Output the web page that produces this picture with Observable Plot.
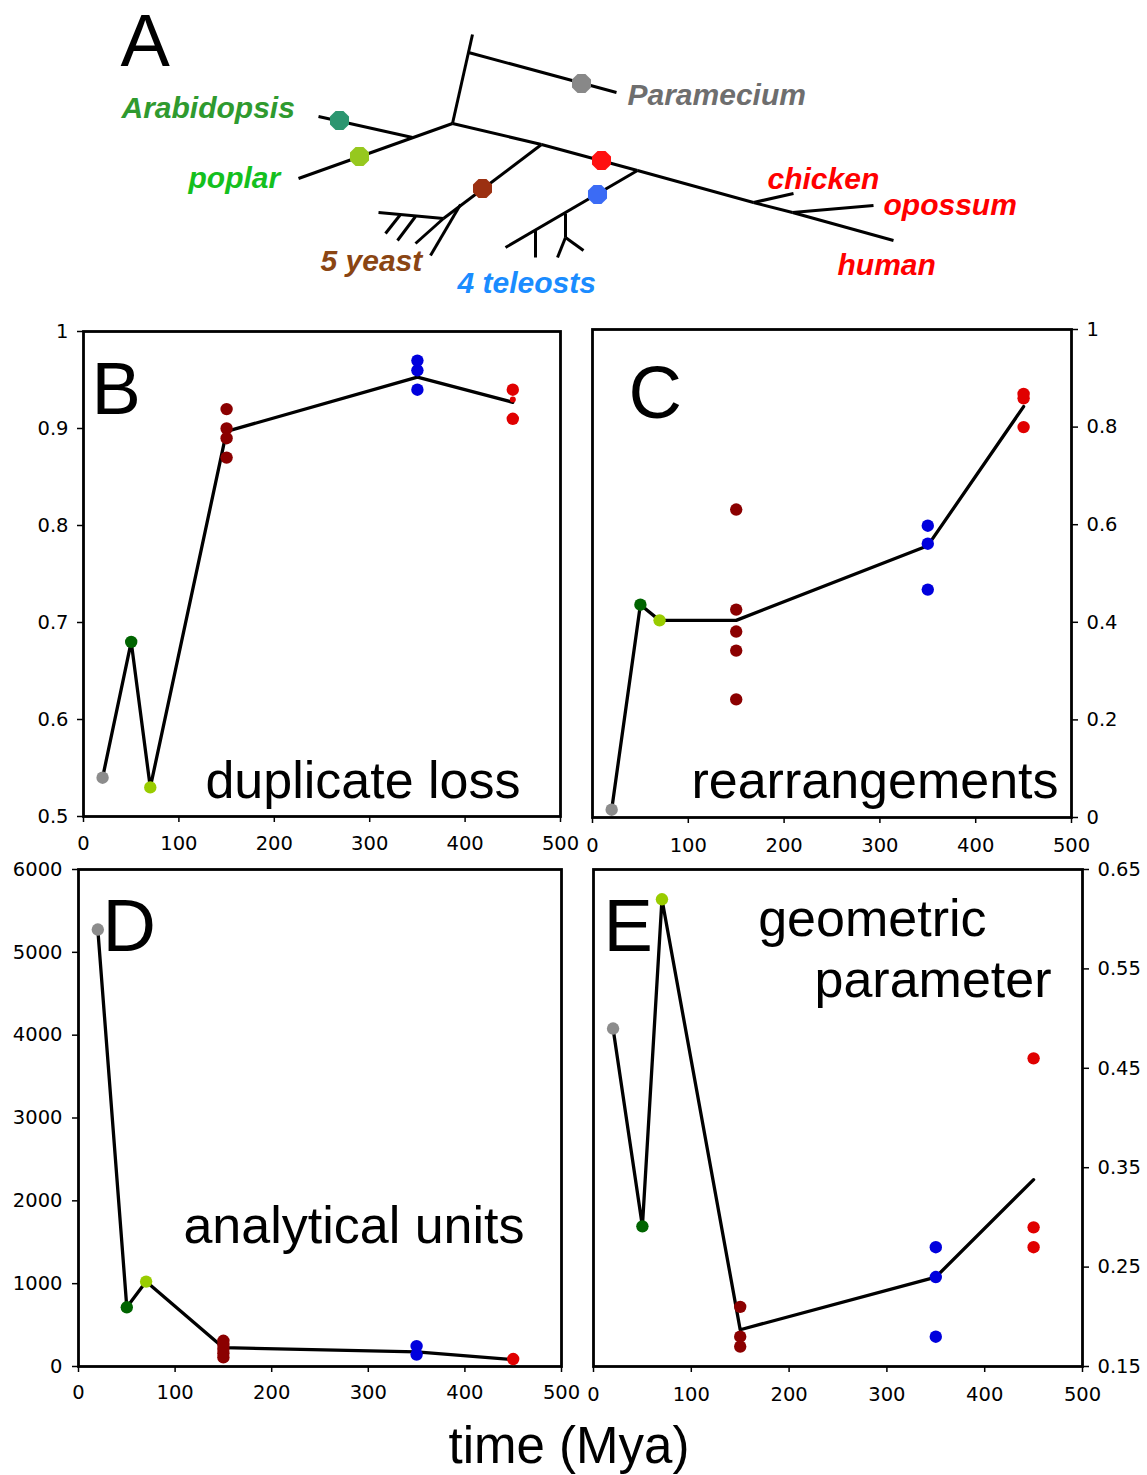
<!DOCTYPE html>
<html><head><meta charset="utf-8">
<script src="https://cdn.jsdelivr.net/npm/d3@7"></script>
<script src="https://cdn.jsdelivr.net/npm/@observablehq/plot@0.6"></script>
<style>
html,body{margin:0;padding:0;background:#fff;}
#page{position:relative;width:1147px;height:1475px;overflow:hidden;background:#fff;}
.panel{position:absolute;}
.panel svg{display:block;overflow:visible;max-width:none !important;}
#title{position:absolute;left:0;width:1138px;top:1421px;text-align:center;font-family:"Liberation Sans",Arial,sans-serif;font-size:51px;line-height:50px;color:#000;}
g[aria-label$="tick"] path{stroke-width:1.5px;}
</style></head>
<body><div id="page"></div>
<script>
// ---------- DATA ----------
const groups      = ["Paramecium", "Arabidopsis", "poplar", "yeast", "teleosts", "mammals"];
const groupTimes  = [20, 50, 70, 150, 350, 450];
const groupColors = ["#8c8c8c", "#006400", "#99cc00", "#8b0000", "#0000dd", "#e00000"];

// panel B: duplicate loss
const dupLoss      = [[0.54], [0.68], [0.53], [0.92, 0.90, 0.89, 0.87], [0.97, 0.96, 0.94], [0.94, 0.91]];
const dupLossMean  = [0.54, 0.68, 0.53, 0.897, 0.953, 0.927];
const dupLossSmall = [[], [], [], [], [], [0.93]];
// panel C: rearrangements
const rearr     = [[0.016], [0.436], [0.404], [0.631, 0.426, 0.381, 0.342, 0.242], [0.598, 0.561, 0.467], [0.868, 0.859, 0.80]];
const rearrMean = [0.016, 0.436, 0.404, 0.404, 0.557, 0.842];
// panel D: analytical units
const units     = [[5275], [715], [1025], [310, 260, 210, 160, 110], [246, 144], [90]];
const unitsMean = [5275, 715, 1025, 227, 176, 82];
// panel E: geometric parameter
const geom     = [[0.49], [0.291], [0.62], [0.21, 0.18, 0.17], [0.27, 0.24, 0.18], [0.46, 0.29, 0.27]];
const geomMean = [0.49, 0.291, 0.62, 0.187, 0.24, 0.338];

// tick values
const xTicks = [0, 100, 200, 300, 400, 500];
const bTicks = [0.5, 0.6, 0.7, 0.8, 0.9, 1];
const cTicks = [0, 0.2, 0.4, 0.6, 0.8, 1];
const dTicks = [0, 1000, 2000, 3000, 4000, 5000, 6000];
const eTicks = [0.15, 0.25, 0.35, 0.45, 0.55, 0.65];

// texts
const panelLetters = ["A", "B", "C", "D", "E"];
const measureNames = [["duplicate loss"], ["rearrangements"], ["analytical units"], ["geometric", "parameter"]];
const axisTitle = "time (Mya)";

// panel A: species labels and colours
const species       = ["Paramecium", "Arabidopsis", "poplar", "5 yeast", "4 teleosts", "chicken", "opossum", "human"];
const speciesColors = ["#6e6e6e", "#2f9a2f", "#14c01e", "#8a4513", "#1a8cff", "#ff0000", "#ff0000", "#ff0000"];
const markerNames   = ["Paramecium", "Arabidopsis", "poplar", "yeast", "mammals", "teleosts"];
const markerColors  = ["#888888", "#2b9670", "#96c81e", "#9b3011", "#ff1111", "#3b6bf5"];

// panel A tree layout (schematic drawing units)
const treeNodes = {
  top: [472, 34], par: [468, 52], parTip: [616, 92], N: [452, 123],
  pl: [412, 137], araTip: [318, 116], popTip: [298, 178],
  Y: [541, 144], Ysub: [460, 204], Yend: [443, 218], Ylong: [430, 255], Yh: [378, 212], Yd: [415, 243],
  Yt1: [400, 214], Yt1e: [385, 233], Yt2: [415, 216], Yt2e: [397, 240],
  T: [637, 170], Tend: [505, 247], Ts: [565, 213], Tsb: [565, 237], Tsl: [557, 257], Tsr: [583, 250],
  Tv: [535, 230], Tve: [535, 257],
  Ch: [753, 202], ChTip: [793, 193], Op: [792, 212], OpTip: [873, 205], H: [893, 240]
};
const treeEdges = [
  ["N", "top"], ["par", "parTip"], ["N", "popTip"], ["pl", "araTip"],
  ["N", "Y"], ["Y", "T"], ["T", "Ch"], ["Ch", "Op"], ["Op", "H"],
  ["Y", "Yend"], ["Ysub", "Ylong"], ["Yend", "Yh"], ["Yend", "Yd"], ["Yt1", "Yt1e"], ["Yt2", "Yt2e"],
  ["T", "Tend"], ["Ts", "Tsb"], ["Tsb", "Tsl"], ["Tsb", "Tsr"], ["Tv", "Tve"],
  ["Ch", "ChTip"], ["Op", "OpTip"]
];
const markerAt = [[581, 83], [339, 120], [359, 156], [482, 188], [601, 160], [597, 194]];
const labelAt  = [[627, 104], [121, 117], [188, 187], [320, 270], [457, 292], [767, 188], [883, 214], [837, 274]];

// ---------- DRAWING ----------
const page = document.getElementById("page");
const FONT = "Liberation Sans, Arial, Helvetica, sans-serif";
const TICKFONT = "DejaVu Sans, Verdana, sans-serif";
const fmt = d3.format("~g");

function place(svg, left, top) {
  const div = document.createElement("div");
  div.className = "panel";
  div.style.left = left + "px";
  div.style.top = top + "px";
  div.appendChild(svg);
  page.appendChild(div);
}

const octagon = {
  draw(context, size) {
    const r = Math.sqrt(size / Math.PI) * 1.03;
    for (let i = 0; i < 8; i++) {
      const a = Math.PI / 8 + i * Math.PI / 4;
      const px = r * Math.cos(a), py = r * Math.sin(a);
      if (i === 0) context.moveTo(px, py); else context.lineTo(px, py);
    }
    context.closePath();
  }
};

// Panel A
const links = treeEdges.map(([a, b]) => ({x1: treeNodes[a][0], y1: treeNodes[a][1], x2: treeNodes[b][0], y2: treeNodes[b][1]}));
const markers = markerNames.map((n, i) => ({name: n, color: markerColors[i], x: markerAt[i][0], y: markerAt[i][1]}));
const labels = species.map((s, i) => ({text: s, color: speciesColors[i], x: labelAt[i][0], y: labelAt[i][1]}));

place(Plot.plot({
  width: 1147, height: 300, margin: 0,
  x: {domain: [0, 1147], range: [0, 1147], axis: null},
  y: {domain: [0, 300], range: [0, 300], axis: null},
  color: {type: "identity"},
  style: {background: "transparent", overflow: "visible"},
  marks: [
    Plot.link(links, {x1: "x1", y1: "y1", x2: "x2", y2: "y2", stroke: "black", strokeWidth: 3}),
    Plot.dot(markers, {x: "x", y: "y", r: 10, fill: "color", symbol: octagon}),
    Plot.text(labels, {x: "x", y: "y", text: "text", fill: "color", fontSize: 30, fontWeight: "bold", fontStyle: "italic", fontFamily: FONT, textAnchor: "start", lineAnchor: "bottom"}),
    Plot.text([panelLetters[0]], {frameAnchor: "top-left", text: d => d, dx: 120, dy: 65, fontSize: 74, fontFamily: FONT, textAnchor: "start", lineAnchor: "bottom", fill: "black"})
  ]
}), 0, 0);

function pointsOf(values) {
  return groups.flatMap((g, i) => values[i].map(v => ({time: groupTimes[i], value: v, color: groupColors[i]})));
}
function meansOf(means) {
  return groups.map((g, i) => ({time: groupTimes[i], value: means[i]}));
}

function panel(cfg) {
  const marks = [
    Plot.frame({stroke: "black", strokeWidth: 2.8}),
    Plot.line(meansOf(cfg.means), {x: "time", y: "value", stroke: "black", strokeWidth: 3.3}),
    Plot.dot(pointsOf(cfg.values), {x: "time", y: "value", fill: "color", r: 6.2})
  ];
  if (cfg.small) marks.push(Plot.dot(pointsOf(cfg.small), {x: "time", y: "value", fill: "color", r: 3}));
  marks.push(Plot.text([cfg.letter], {frameAnchor: "top-left", text: d => d, dx: cfg.letterDx, dy: cfg.letterDy, fontSize: 74, fontFamily: FONT, textAnchor: "start", lineAnchor: "bottom", fill: "black"}));
  cfg.names.forEach((t, i) => {
    const p = cfg.namePos[i];
    marks.push(Plot.text([t], {frameAnchor: p.anchor, text: d => d, dx: p.dx, dy: p.dy, fontSize: 52, fontFamily: FONT, textAnchor: "end", lineAnchor: "bottom", fill: "black"}));
  });
  return Plot.plot({
    width: cfg.width, height: cfg.height,
    marginLeft: cfg.m[0], marginRight: cfg.m[1], marginTop: cfg.m[2], marginBottom: cfg.m[3],
    x: {domain: [0, 500], ticks: xTicks, tickSize: 6, tickPadding: cfg.xPad, tickFormat: d => String(d), label: null},
    y: {domain: cfg.yDomain, ticks: cfg.yTicks, tickSize: 6, tickPadding: cfg.yPad, tickFormat: fmt, label: null, axis: cfg.yAxis},
    color: {type: "identity"},
    style: {background: "transparent", overflow: "visible", fontFamily: TICKFONT, fontSize: "19.5px", color: "black"},
    marks
  });
}

// B
place(panel({
  width: 580, height: 560, m: [83, 20, 31, 44], xPad: 14, yPad: 9,
  yDomain: [0.5, 1], yTicks: bTicks, yAxis: "left",
  values: dupLoss, means: dupLossMean, small: dupLossSmall,
  letter: panelLetters[1], letterDx: 8, letterDy: 82,
  names: measureNames[0], namePos: [{anchor: "bottom-right", dx: -40, dy: -19}]
}), 0, 300);

// C
place(panel({
  width: 567, height: 560, m: [12, 76, 29, 43], xPad: 15, yPad: 9,
  yDomain: [0, 1], yTicks: cTicks, yAxis: "right",
  values: rearr, means: rearrMean,
  letter: panelLetters[2], letterDx: 36, letterDy: 88,
  names: measureNames[1], namePos: [{anchor: "bottom-right", dx: -13, dy: -20}]
}), 580, 300);

// D
place(panel({
  width: 580, height: 560, m: [78, 19, 9, 54], xPad: 13, yPad: 10,
  yDomain: [0, 6000], yTicks: dTicks, yAxis: "left",
  values: units, means: unitsMean,
  letter: panelLetters[3], letterDx: 24, letterDy: 81,
  names: measureNames[2], namePos: [{anchor: "bottom-right", dx: -37, dy: -124}]
}), 0, 860);

// E
place(panel({
  width: 567, height: 560, m: [13, 65, 9, 54], xPad: 15, yPad: 9,
  yDomain: [0.15, 0.65], yTicks: eTicks, yAxis: "right",
  values: geom, means: geomMean,
  letter: panelLetters[4], letterDx: 10, letterDy: 81,
  names: measureNames[3], namePos: [{anchor: "top-right", dx: -96, dy: 66}, {anchor: "top-right", dx: -31, dy: 127}]
}), 580, 860);

const title = document.createElement("div");
title.id = "title";
title.textContent = axisTitle;
page.appendChild(title);
</script>
</body></html>
